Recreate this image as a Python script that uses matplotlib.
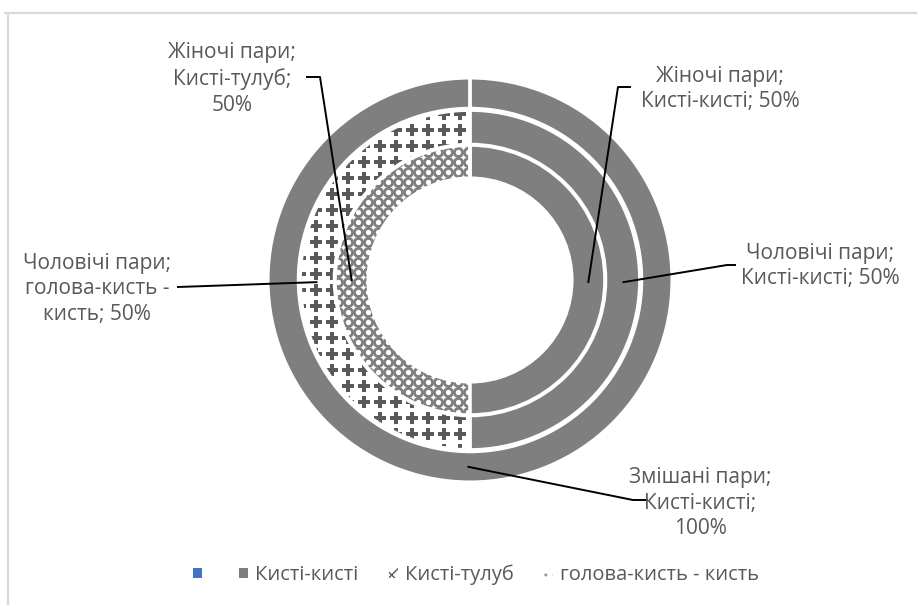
import matplotlib.pyplot as plt
import numpy as np
from matplotlib.lines import Line2D
from matplotlib.patches import Patch

# data
categories = ["", "Кисті-кисті", "Кисті-тулуб", "голова-кисть - кисть"]
series = ["Жіночі пари", "Чоловічі пари", "Змішані пари"]
women = [0, 50, 50, 0]
men = [0, 50, 0, 50]
mixed = [0, 100, 0, 0]

GRAY = "#7f7f7f"
TEXT = "#595959"
BLUE = "#4472c4"
W, H = 917, 605

plt.rcParams["font.family"] = ["Open Sans", "DejaVu Sans"]

fig = plt.figure(figsize=(W / 100, H / 100), dpi=100)


def fx(x, y):
    # pixel (top-left origin) -> figure fraction
    return x / W, 1 - y / H


# pie axes: centre (470, 280) px, outer radius 202 px
cx, cy, R = 470, 280, 202
ax = fig.add_axes([(cx - R) / W, (H - cy - R) / H, 2 * R / W, 2 * R / H])
ax.axis("off")

rings = [(women, 0.667, 0.162), (men, 0.84, 0.168), (mixed, 1.0, 0.15)]
colors = [BLUE, GRAY, "white", "white"]
wedges_all = []
for vals, r, w in rings:
    wedges, _ = ax.pie(vals, radius=r, startangle=90, counterclock=False,
                       colors=colors, wedgeprops=dict(width=w, linewidth=0))
    wedges_all.append(wedges)

# texture for patterned slices
step = 16 / R
gx, gy = np.meshgrid(np.arange(-1, 1, step), np.arange(-1, 1, step))
plus = ax.scatter(gx.ravel(), gy.ravel(), marker="P", s=78, color="#595959",
                  linewidths=0, zorder=3)
plus.set_clip_path(wedges_all[1][3])

step2 = 10 / R
hx, hy = np.meshgrid(np.arange(-1, 1, step2), np.arange(-1, 1, step2))
circ = ax.scatter(hx.ravel(), hy.ravel(), marker="o", s=34, facecolor="white",
                  edgecolor=GRAY, linewidths=2.0, zorder=3)
circ.set_clip_path(wedges_all[0][2])

# white separators on top
for vals, r, w in rings:
    ax.pie(vals, radius=r, startangle=90, counterclock=False,
           colors=["none"] * 4,
           wedgeprops=dict(width=w, edgecolor="white", linewidth=2.2, zorder=4))
ax.set_xlim(-1, 1)
ax.set_ylim(-1, 1)
ax.set_aspect("equal")

# data labels with leader lines
data = [women, men, mixed]
mid_r = [0.586, 0.76, 0.925]
labels = [
    # ring, category, text centre px, angle of leader end, separators, elbow
    (0, 2, (232, 79), 180.0, ("\n", "\n"), [(307, 77), (320, 77)]),
    (0, 1, (720, 89), -1.0, ("\n", " "), [(630, 87), (618, 87)]),
    (1, 1, (820, 266), -0.8, ("\n", " "), [(735, 265), (727, 265)]),
    (1, 3, (97, 289), 180.8, ("\n", " "), [(178, 287)]),
    (2, 1, (700, 503), -90.5, ("\n", "\n"), [(647, 500), (633, 500)]),
]
to_fig = ax.transData + fig.transFigure.inverted()
for ring, ci, (tx, ty), ang, (s1, s2), elbow in labels:
    vals = data[ring]
    pct = round(100 * vals[ci] / sum(vals))
    cat = categories[ci]
    if ring == 1 and ci == 3:
        cat = "голова-кисть -\nкисть"
    text = f"{series[ring]};{s1}{cat};{s2}{pct}%"
    fig.text(*fx(tx, ty), text, ha="center", va="center", fontsize=15,
             color=TEXT, linespacing=1.3)
    a = np.deg2rad(ang)
    end = to_fig.transform((mid_r[ring] * np.cos(a), mid_r[ring] * np.sin(a)))
    pts = [fx(*p) for p in elbow] + [tuple(end)]
    fig.add_artist(Line2D([p[0] for p in pts], [p[1] for p in pts],
                          color="black", linewidth=1.4, transform=fig.transFigure))

# legend
handles = [
    Patch(facecolor=BLUE, linewidth=0),
    Patch(facecolor=GRAY, linewidth=0),
    Patch(facecolor="white", edgecolor="#595959", hatch="xx", linewidth=0),
    Patch(facecolor="white", edgecolor="#999999", hatch="..", linewidth=0),
]
fig.legend(handles, categories, loc="center", bbox_to_anchor=fx(476, 575),
           ncol=4, frameon=False, fontsize=14.5, handlelength=0.45,
           handleheight=0.45, handletextpad=0.35, columnspacing=1.5,
           labelcolor=TEXT)

# chart frame (top and left edges visible)
fig.add_artist(Line2D([5 / W, 1], [1 - 13 / H] * 2, color="#d9d9d9",
                      linewidth=1.6, transform=fig.transFigure))
fig.add_artist(Line2D([8 / W] * 2, [0, 1 - 13 / H], color="#d9d9d9",
                      linewidth=1.6, transform=fig.transFigure))

fig.savefig("out.png", dpi=100)
